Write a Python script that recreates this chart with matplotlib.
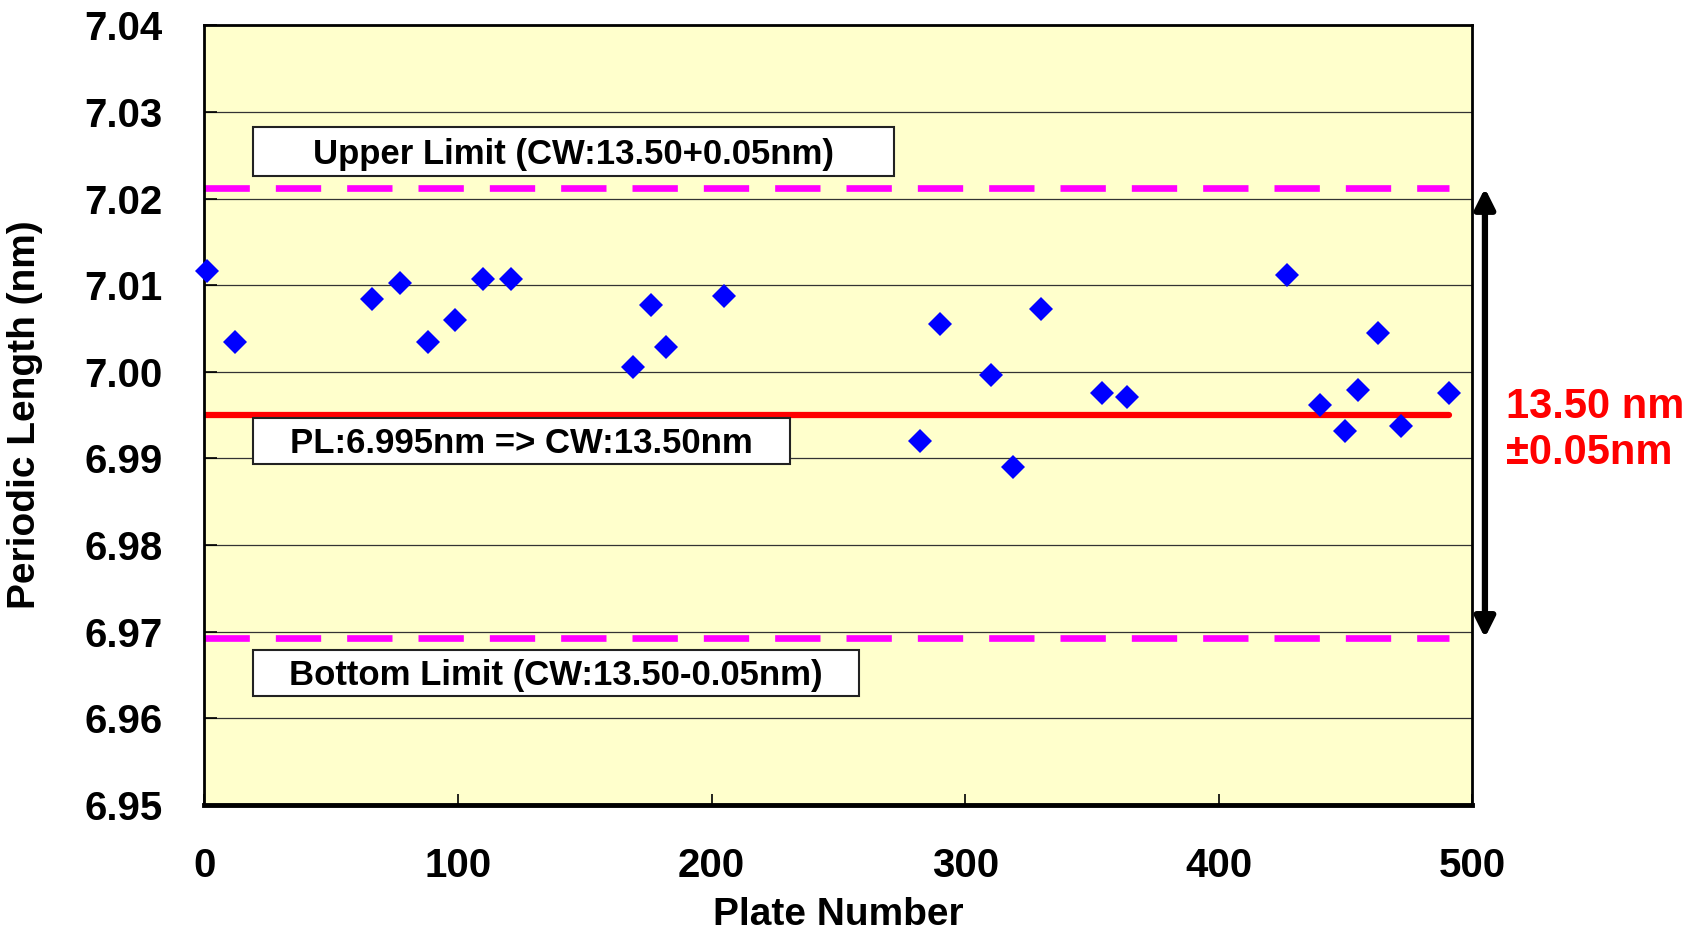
import numpy as np
import matplotlib.pyplot as plt
from matplotlib.patches import Rectangle

plt.rcParams['font.family'] = ['Liberation Sans', 'DejaVu Sans']
plt.rcParams['font.weight'] = 'bold'

# measured plates (plate number, periodic length in nm)
plate_no = [1, 12, 66, 77, 88, 99, 110, 121, 169, 176, 182, 205,
            282, 290, 310, 319, 330, 354, 364, 427, 440, 450, 455, 463, 472, 491]
period_nm = [7.0116, 7.0034, 7.0084, 7.0103, 7.0034, 7.0060, 7.0107, 7.0107,
             7.0005, 7.0077, 7.0029, 7.0088, 6.9920, 7.0055, 6.9996, 6.9890,
             7.0072, 6.9976, 6.9971, 7.0112, 6.9962, 6.9932, 6.9979, 7.0045,
             6.9938, 6.9975]

target_pl = 6.995
upper_pl = 7.0212
lower_pl = 6.9693
line_end = 491

fig = plt.figure(figsize=(17.04, 9.35), dpi=100)
ax = fig.add_axes([0.120, 0.139, 0.744, 0.834])
ax.set_facecolor('#FFFFCC')

ax.set_xlim(0, 500)
ax.set_ylim(6.95, 7.04)
ax.set_xticks(np.arange(0, 501, 100))
ax.set_yticks(np.arange(6.95, 7.0401, 0.01))
ax.yaxis.set_major_formatter(plt.FormatStrFormatter('%.2f'))
ax.grid(axis='y', color='#333333', linewidth=0.9, zorder=0)
ax.set_axisbelow(True)

ax.tick_params(axis='both', direction='in', labelsize=29, width=1.2)
ax.tick_params(axis='y', length=9, pad=30)
ax.tick_params(axis='x', length=8, pad=30)

for side in ['top', 'left', 'right']:
    ax.spines[side].set_linewidth(2)
ax.spines['bottom'].set_linewidth(3.5)

# limit lines
ax.plot([0, line_end], [upper_pl, upper_pl], color='#FF00FF', linewidth=4.8,
        dashes=(6.8, 3.9), solid_capstyle='butt', zorder=2)
ax.plot([0, line_end], [lower_pl, lower_pl], color='#FF00FF', linewidth=4.8,
        dashes=(6.8, 3.9), solid_capstyle='butt', zorder=2)
ax.plot([0, line_end], [target_pl, target_pl], color='#FF0000', linewidth=4.5,
        solid_capstyle='round', zorder=2)

# data points
ax.plot(plate_no, period_nm, linestyle='none', marker='D', markersize=12.5,
        color='#0000FF', markeredgewidth=0, zorder=4, clip_on=False)

# label boxes
boxes = [
    (19, 272, 7.02258, 7.02822, 'Upper Limit (CW:13.50+0.05nm)'),
    (19, 231, 6.98937, 6.99464, 'PL:6.995nm => CW:13.50nm'),
    (19, 258, 6.96256, 6.96794, 'Bottom Limit (CW:13.50-0.05nm)'),
]
for x0, x1, y0, y1, label in boxes:
    ax.add_patch(Rectangle((x0, y0), x1 - x0, y1 - y0, facecolor='white',
                           edgecolor='#222222', linewidth=1.5, zorder=5))
    ax.text((x0 + x1) / 2, (y0 + y1) / 2 - 0.0003, label, fontsize=25,
            fontweight='bold', ha='center', va='center', zorder=6)

# tolerance arrow and annotation
ax.annotate('', xy=(505, upper_pl), xytext=(505, lower_pl),
            xycoords='data', annotation_clip=False,
            arrowprops=dict(arrowstyle='<|-|>,head_length=1.2,head_width=0.6',
                            color='black', linewidth=4.5, shrinkA=0, shrinkB=0))
ax.text(513.5, 6.9933, '13.50 nm\n±0.05nm', color='#FF0000', fontsize=30,
        fontweight='bold', ha='left', va='center', linespacing=1.2,
        clip_on=False)

ax.set_xlabel('Plate Number', fontsize=28, fontweight='bold', labelpad=9)
ax.set_ylabel('Periodic Length (nm)', fontsize=28, fontweight='bold', labelpad=30)

fig.savefig('out.png', dpi=100)
